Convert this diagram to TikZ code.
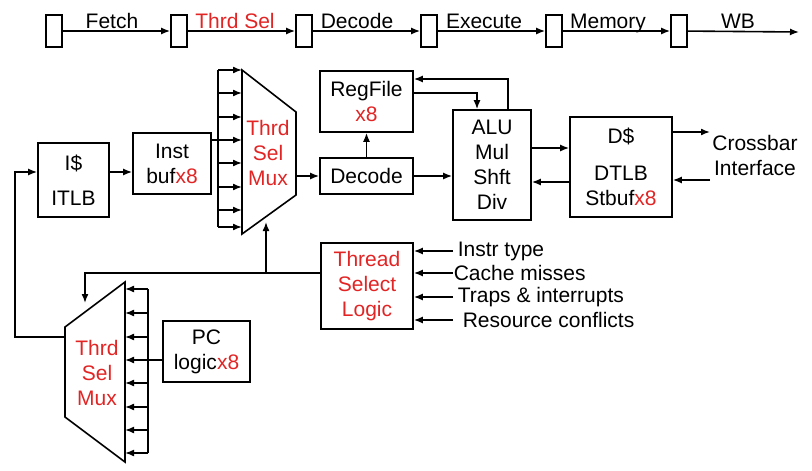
\documentclass[tikz,border=0pt]{standalone}
\usepackage{fontspec}
\setmainfont{Liberation Sans}
\usetikzlibrary{arrows.meta,positioning,calc}
\definecolor{selred}{RGB}{226,36,36}
\newcommand{\rx}[1]{\textcolor{selred}{#1}}

\begin{document}
\begin{tikzpicture}[x=1pt, y=-1pt, line width=1.6pt,
		every node/.style={font=\fontsize{21}{25}\selectfont, inner sep=0pt},
		blk/.style={draw, align=center},
		sig/.style={-{Latex[length=9pt,width=7pt]}}]
	\useasboundingbox (0,0) rectangle (812,471);
	\foreach \i in {0,...,5}
		\node[draw, minimum width=16pt, minimum height=32pt] (reg\i) at (54+125*\i,31) {};
	\coordinate (pend) at (799,32);
	\foreach \i/\j in {0/1,1/2,2/3,3/4,4/5}
		\draw[sig] (reg\i) -- (reg\j);
	\draw[sig] (reg5) -- (pend);
	\foreach \x/\t [count=\k] in {112/Fetch, 235/\rx{Thrd Sel}, 357/Decode, 484/Execute, 608/Memory, 738/WB}
		\node[anchor=base] (stage\k) at (\x,28) {\t};

	\node[blk, minimum width=71pt, minimum height=74pt] (icache) at (73.5,180) {I\$\\[10pt]ITLB};
	\node[blk, minimum width=78pt, minimum height=61pt] (ibuf) at (172,163.5) {Inst\\buf\rx{x8}};
	\node[blk, minimum width=93pt, minimum height=61pt] (regfile) at (366.5,101.5) {RegFile\\\rx{x8}};
	\node[blk, minimum width=93pt, minimum height=36pt] (decode) at (366.5,176) {Decode};
	\node[blk, minimum width=78pt, minimum height=110pt] (alu) at (492,165) {ALU\\Mul\\Shft\\Div};
	\node[blk, minimum width=102pt, minimum height=100pt] (dcache) at (621,167) {D\$\\[12pt]DTLB\\Stbuf\rx{x8}};
	\node[align=center] (xbar) at (755,155.5) {Crossbar\\Interface};
	\node[blk, minimum width=92pt, minimum height=86pt, text=selred] (tsl) at (367,286) {Thread\\Select\\Logic};
	\node[blk, minimum width=87pt, minimum height=61pt] (pc) at (206.5,351.5) {PC\\logic\rx{x8}};

	\coordinate (m1tl) at (242,70);
	\coordinate (m1tr) at (296,112);
	\coordinate (m1br) at (296,195);
	\coordinate (m1bl) at (242,234);
	\draw (m1tl) -- (m1tr) -- (m1br) -- (m1bl) -- cycle;
	\node[align=center, text=selred] (mux1) at (268,153) {Thrd\\Sel\\Mux};
	\coordinate (m2tr) at (125,282);
	\coordinate (m2br) at (125,462);
	\coordinate (m2bl) at (65,417);
	\coordinate (m2tl) at (65,327);
	\draw (m2tr) -- (m2br) -- (m2bl) -- (m2tl) -- cycle;
	\node[align=center, text=selred] (mux2) at (97,373) {Thrd\\Sel\\Mux};

	\foreach \y [count=\k] in {70,93,117,140,163,187,210,227} {
		\coordinate (ba\k) at (218,\y);
		\draw[sig] (ba\k) -- (m1tl |- ba\k);
	}
	\draw (ba1) -- (ba8);
	\draw (ibuf.east |- ba4) -- (ba4);
	\foreach \y [count=\k] in {289,313,337,360,383,407,430,453} {
		\coordinate (bb\k) at (148,\y);
		\draw[sig] (bb\k) -- (m2tr |- bb\k);
	}
	\draw (bb1) -- (bb8);
	\draw (pc.west |- bb4) -- (bb4);

	\draw[sig] ($(icache.east)+(0,-8)$) -- ($(ibuf.west)+(0,8.5)$);
	\draw[sig] (m1tr |- decode) -- (decode);
	\draw[sig] (decode) -- (regfile);
	\draw[sig] ($(alu.north)+(16,0)$) |- ($(regfile.east)+(0,-22.5)$);
	\draw[sig] ($(regfile.east)+(0,-8.5)$) -| ($(alu.north)+(-15,0)$);
	\draw[sig] (decode) -- (decode -| alu.west);
	\draw[sig] ($(alu.east)+(0,-17)$) -- ($(dcache.west)+(0,-19)$);
	\draw[sig] ($(dcache.west)+(0,15)$) -- ($(alu.east)+(0,17)$);
	\coordinate (xout) at (710,132);
	\coordinate (xin) at (710,180);
	\draw[sig] ($(dcache.east)+(0,-35)$) -- (xout);
	\draw[sig] (xin) -- ($(dcache.east)+(0,13)$);

	\foreach \y/\dx/\t [count=\k] in {251/4/Instr type, 273/0/Cache misses, 297/4/Traps \& interrupts, 320/9/Resource conflicts} {
		\coordinate (ts\k) at (453,\y);
		\node[anchor=west] (cause\k) at ($(ts\k)+(\dx,0)$) {\t};
		\draw[sig] (ts\k) -- (ts\k -| tsl.east);
	}

	\coordinate (sj) at (266,273);
	\coordinate (m1s) at (266,222);
	\coordinate (m2s) at (85,303);
	\draw[sig] ($(tsl.west)+(0,-13)$) -| (m2s);
	\draw[sig] (sj) -- (m1s);
	\coordinate (m2fb) at (65,337);
	\coordinate (fbl) at (15,337);
	\draw[sig] (m2fb) -- (fbl) |- ($(icache.west)+(0,-8)$);
\end{tikzpicture}
\end{document}
